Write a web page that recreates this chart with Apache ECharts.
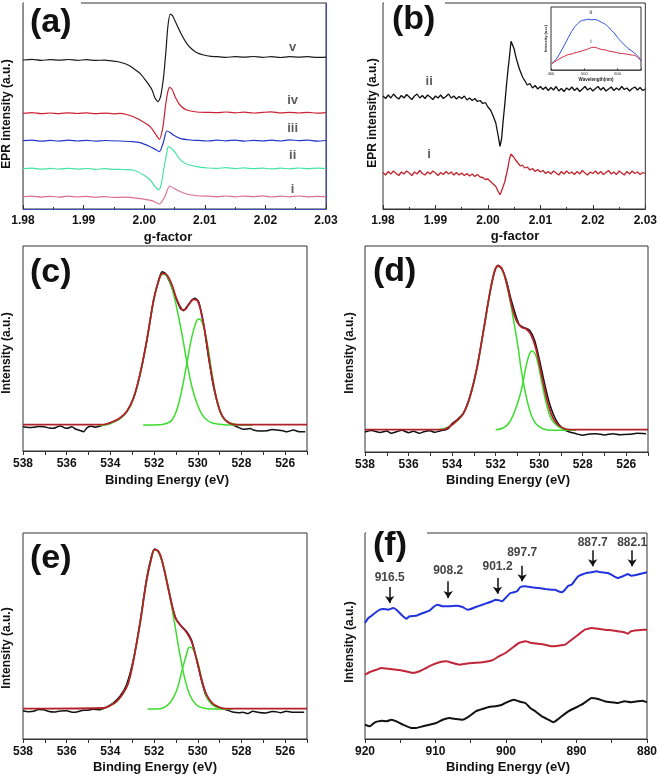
<!DOCTYPE html>
<html><head><meta charset="utf-8">
<script src="https://cdn.jsdelivr.net/npm/echarts@6/dist/echarts.min.js"></script>
<style>html,body{margin:0;padding:0;background:#fff}#c{width:660px;height:776px}</style>
</head><body><div id="c"></div>
<script>
const FONT = '"Liberation Sans", Arial, sans-serif';

// ---------- (a) EPR spectra: [g-factor, intensity] ----------
const aV = [[1.9800,149],[1.9815,149.6],[1.9830,148.6],[1.9845,149.4],[1.9860,148.8],[1.9875,149.5],[1.9890,148.7],[1.9905,149.3],[1.9920,148.6],[1.9935,148.9],[1.9944,148.3],[1.9955,147.5],[1.9966,145.7],[1.9975,143.5],[1.9982,140.7],[1.9993,135.7],[2.0004,127.3],[2.0013,119],[2.0018,110.7],[2.0023,107.3],[2.0027,112.3],[2.0032,132.3],[2.0036,159],[2.0039,182.3],[2.0043,195],[2.0047,193],[2.0054,184],[2.0062,174],[2.0070,165.7],[2.0079,159.7],[2.0087,156.3],[2.0098,154],[2.0110,152.6],[2.0120,152.3],[2.0135,151.6],[2.0150,152.4],[2.0165,151.8],[2.0180,152.5],[2.0195,151.7],[2.0210,152.3],[2.0225,151.5],[2.0240,152.4],[2.0255,151.8],[2.0270,152.3],[2.0285,151.6],[2.0300,151.9]];
const aIV = [[1.9800,95.7],[1.9815,96.3],[1.9830,95.3],[1.9845,96.0],[1.9860,95.4],[1.9875,96.2],[1.9890,95.5],[1.9905,96.1],[1.9920,95.3],[1.9935,95.9],[1.9950,95.2],[1.9960,95.6],[1.9971,94.5],[1.9982,92.3],[1.9993,89],[2.0010,82.3],[2.0018,75.7],[2.0025,69.7],[2.0031,82.3],[2.0035,102.3],[2.0039,117.3],[2.0042,121.7],[2.0046,119.7],[2.0051,112.3],[2.0059,104],[2.0070,99],[2.0087,97],[2.0105,96.6],[2.0120,96.3],[2.0135,97.0],[2.0150,96.2],[2.0165,96.8],[2.0180,96.0],[2.0195,96.6],[2.0210,97.2],[2.0225,96.1],[2.0240,96.7],[2.0255,96.0],[2.0270,96.6],[2.0285,95.9],[2.0300,96.4]];
const aIII = [[1.9800,68.3],[1.9815,68.9],[1.9830,67.8],[1.9845,68.6],[1.9860,67.9],[1.9875,68.8],[1.9890,68.0],[1.9905,68.7],[1.9920,67.8],[1.9935,68.5],[1.9960,68.0],[1.9980,67.3],[1.9993,66.3],[2.0010,62.3],[2.0018,59.7],[2.0025,57.3],[2.0032,67.3],[2.0037,78],[2.0043,76.5],[2.0048,74],[2.0059,70.7],[2.0076,69],[2.0090,68.6],[2.0105,68.0],[2.0120,68.8],[2.0135,68.2],[2.0150,68.9],[2.0165,67.9],[2.0180,68.6],[2.0195,68.1],[2.0210,68.8],[2.0225,68.0],[2.0240,69.2],[2.0255,68.3],[2.0270,68.9],[2.0285,67.9],[2.0300,68.5]];
const aII = [[1.9800,40.3],[1.9815,40.9],[1.9830,39.8],[1.9845,40.6],[1.9860,39.9],[1.9875,40.7],[1.9890,39.9],[1.9905,40.5],[1.9920,39.7],[1.9935,40.3],[1.9950,39.6],[1.9965,39.5],[1.9982,39],[1.9999,34],[2.0010,29],[2.0018,22.3],[2.0024,19],[2.0028,24],[2.0032,39],[2.0036,52],[2.0040,62.3],[2.0048,59],[2.0059,49.7],[2.0070,45],[2.0087,42.3],[2.0105,41.0],[2.0120,40.7],[2.0135,41.3],[2.0150,40.4],[2.0165,41.1],[2.0180,40.3],[2.0195,40.9],[2.0210,40.1],[2.0225,40.8],[2.0240,40.2],[2.0255,41.0],[2.0270,40.3],[2.0285,40.8],[2.0300,40.5]];
const aI = [[1.9800,12.3],[1.9815,12.9],[1.9830,11.9],[1.9845,12.7],[1.9860,11.8],[1.9875,12.8],[1.9890,12.0],[1.9905,12.6],[1.9920,11.7],[1.9935,12.4],[1.9950,11.6],[1.9965,11.8],[1.9990,10.7],[2.0013,8.3],[2.0025,5],[2.0034,12.3],[2.0042,23],[2.0054,19],[2.0070,15],[2.0092,13],[2.0105,12.8],[2.0120,12.2],[2.0135,13.0],[2.0150,12.1],[2.0165,12.9],[2.0180,12.3],[2.0195,13.1],[2.0210,12.0],[2.0225,12.8],[2.0240,12.2],[2.0255,13.0],[2.0270,12.1],[2.0285,12.7],[2.0300,12.4]];
const aLabels = [[2.0245,161.3,'v'],[2.0245,109,'iv'],[2.0245,80.7,'iii'],[2.0245,54,'ii'],[2.0245,20,'i']];

// ---------- (b) EPR spectra ----------
const bII = [[1.9800,113],[1.9805,110.5],[1.9810,114],[1.9815,111],[1.9820,115],[1.9825,112],[1.9830,110],[1.9835,113.5],[1.9840,111],[1.9845,114.5],[1.9850,112],[1.9855,109.5],[1.9860,113],[1.9865,115],[1.9870,111],[1.9875,113.5],[1.9880,110.5],[1.9885,114],[1.9890,112],[1.9895,109.5],[1.9900,113],[1.9905,111],[1.9910,114],[1.9915,110.5],[1.9920,112.5],[1.9925,115],[1.9930,111],[1.9935,113],[1.9940,110],[1.9945,112.5],[1.9950,110.5],[1.9955,113],[1.9960,109],[1.9965,111],[1.9970,108.5],[1.9975,110.5],[1.9980,107.5],[1.9985,108.5],[1.9990,105.5],[1.9995,106.5],[2.0000,102],[2.0005,99],[2.0010,93],[2.0015,86],[2.0020,72],[2.0023,62.7],[2.0026,70],[2.0029,88],[2.0032,104],[2.0035,122],[2.0038,138],[2.0041,152],[2.0044,167.7],[2.0047,166],[2.0050,160],[2.0053,152.7],[2.0056,147],[2.0060,140],[2.0063,136],[2.0066,132],[2.0070,128.5],[2.0075,124],[2.0080,125.5],[2.0085,121],[2.0090,123.5],[2.0095,120],[2.0100,122.5],[2.0105,119.5],[2.0110,122],[2.0115,118.5],[2.0120,121.5],[2.0125,119],[2.0130,122.5],[2.0135,118],[2.0140,120.5],[2.0145,117.5],[2.0150,121],[2.0155,119],[2.0160,122],[2.0165,118.5],[2.0170,121],[2.0175,117.5],[2.0180,120],[2.0185,122.5],[2.0190,119],[2.0195,121],[2.0200,118],[2.0205,120.5],[2.0210,122.5],[2.0215,119],[2.0220,121.5],[2.0225,118],[2.0230,120],[2.0235,122],[2.0240,118.5],[2.0245,121],[2.0250,119],[2.0255,122.5],[2.0260,119.5],[2.0265,121],[2.0270,118],[2.0275,120.5],[2.0280,122],[2.0285,119],[2.0290,121.5],[2.0295,118.5],[2.0300,120]];
const bI = [[1.9800,36.5],[1.9805,34],[1.9810,37.5],[1.9815,35],[1.9820,38],[1.9825,35.5],[1.9830,33.5],[1.9835,37],[1.9840,35],[1.9845,38],[1.9850,36],[1.9855,33.5],[1.9860,37],[1.9865,35],[1.9870,38.5],[1.9875,35.5],[1.9880,34],[1.9885,37],[1.9890,35],[1.9895,38],[1.9900,36],[1.9905,33.5],[1.9910,36.5],[1.9915,34.5],[1.9920,37.5],[1.9925,35],[1.9930,37],[1.9935,34],[1.9940,36.5],[1.9945,34],[1.9950,36],[1.9955,33.5],[1.9960,35.5],[1.9965,33],[1.9970,35],[1.9975,32.5],[1.9980,34.5],[1.9985,32],[1.9990,31.5],[1.9995,29.5],[2.0000,30],[2.0005,27.5],[2.0010,25],[2.0015,22.5],[2.0020,17],[2.0023,14.3],[2.0026,18],[2.0029,20],[2.0032,27],[2.0035,34],[2.0038,41],[2.0041,50],[2.0044,55],[2.0046,56.7],[2.0049,52],[2.0052,49.5],[2.0055,48],[2.0058,45.5],[2.0062,43],[2.0066,44],[2.0070,41],[2.0075,42],[2.0080,39],[2.0085,40.5],[2.0090,37.5],[2.0095,39.5],[2.0100,37],[2.0105,38.5],[2.0110,35.5],[2.0115,37.5],[2.0120,35],[2.0125,38],[2.0130,36],[2.0135,34],[2.0140,37.5],[2.0145,35],[2.0150,38],[2.0155,35.5],[2.0160,37],[2.0165,34.5],[2.0170,37.5],[2.0175,35],[2.0180,38.5],[2.0185,36],[2.0190,34],[2.0195,37],[2.0200,35.5],[2.0205,38],[2.0210,35],[2.0215,37.5],[2.0220,34.5],[2.0225,36.5],[2.0230,38.5],[2.0235,35],[2.0240,37],[2.0245,34.5],[2.0250,38],[2.0255,36],[2.0260,34],[2.0265,37.5],[2.0270,35],[2.0275,38],[2.0280,35.5],[2.0285,37],[2.0290,34.5],[2.0295,36.5],[2.0300,35.5]];
const bLabels = [[1.9888,127.7,'ii'],[1.9888,54.3,'i']];

// ---------- (b) inset: [wavelength nm, intensity] ----------
const insetII = [[402,6.2],[412,9.5],[422,14],[432,20],[442,26],[452,32.5],[462,38.5],[472,43.5],[482,47],[492,49.5],[502,50],[512,50.8],[522,50.2],[532,50.5],[542,49.5],[552,47.5],[562,46],[572,43],[582,39.5],[592,36],[602,31.5],[612,27.8],[622,24.5],[632,21.5],[642,19],[652,16.5],[662,13.5],[670,9.5]];
const insetI = [[402,6.2],[412,8.5],[422,10.5],[432,12.5],[442,14],[452,15.5],[462,16],[472,17.2],[482,18],[492,19],[502,20],[512,21.2],[522,22.5],[532,22.8],[542,21.5],[552,20.5],[562,20.2],[572,19],[582,18.5],[592,17.8],[602,17],[612,16.5],[622,16.2],[632,15.5],[642,15],[652,14.5],[662,12],[670,9.5]];
const insetLabels = [[520,57.7,'ii'],[520,28.3,'i']];

// ---------- (c) O 1s XPS: [binding energy eV, intensity] ----------
const cData = [[538.00,24.3],[537.75,23.5],[537.51,23.7],[537.30,24.5],[537.05,24.3],[536.80,23.0],[536.60,22.7],[536.45,24.0],[536.29,25.0],[536.10,23.3],[535.99,22.7],[535.76,24.3],[535.60,22.0],[535.45,21.0],[535.22,19.3],[535.10,22.5],[535.00,24.3],[534.85,24.7],[534.69,23.7],[534.46,25.0],[534.16,27.0],[533.85,29.3],[533.55,32.7],[533.24,39.3],[532.94,52.7],[532.63,77.7],[532.33,111],[532.02,151],[531.79,171],[531.64,179.3],[531.49,177.7],[531.26,167.7],[531.03,154.3],[530.80,142.7],[530.65,140.3],[530.50,144.3],[530.27,151],[530.12,152.7],[529.96,149.3],[529.74,127.7],[529.51,94.3],[529.28,64.3],[529.05,44.3],[528.82,32.7],[528.52,27.7],[528.21,24.3],[527.91,21.7],[527.60,22.5],[527.45,21],[527.20,20.0],[526.84,20.3],[526.60,21.5],[526.38,21],[526.10,20.2],[525.92,19.3],[525.62,21],[525.40,19.5],[525.31,19.3],[525.08,19.3]];
const cFit = [[538,26.3],[534.46,26.3],[534.16,27],[533.85,29.7],[533.55,33.3],[533.24,40],[532.94,53.3],[532.63,78.3],[532.33,111],[532.02,151],[531.79,170.3],[531.60,177.7],[531.41,176],[531.18,166],[530.96,151.7],[530.73,141.7],[530.62,141],[530.42,146],[530.19,151.7],[530.04,151],[529.89,142.7],[529.66,117.7],[529.43,84.3],[529.20,57.7],[528.97,39.3],[528.74,31],[528.52,27.7],[528.21,26.3],[525,26.3]];
const cPeak1 = [[534.6,25.7],[534.16,26.3],[533.85,29],[533.55,32.7],[533.24,39.3],[532.94,52.5],[532.63,77.5],[532.33,110.5],[532.02,150.5],[531.79,170],[531.60,177],[531.41,175],[531.18,162.7],[530.96,142.7],[530.73,117.7],[530.50,89.3],[530.27,64.3],[530.04,47.7],[529.81,36.7],[529.58,31],[529.28,27.7],[528.82,26.3],[528.36,26],[527.5,26]];
const cPeak2 = [[532.5,26],[531.72,26.3],[531.41,27.7],[531.18,31],[530.96,41],[530.73,61],[530.50,87.7],[530.27,114.3],[530.07,129.3],[529.96,132],[529.81,129.3],[529.58,109.3],[529.35,77.7],[529.13,51],[528.90,36],[528.67,29.3],[528.36,27],[528.06,26],[527.5,26]];

// ---------- (d) ----------
const dData = [[538,20],[537.7,21.5],[537.31,19.5],[537.0,21],[536.8,18.7],[536.55,20.3],[536.3,21.7],[536.0,19.3],[535.78,20.7],[535.5,18.7],[535.3,20.3],[535.02,21.3],[534.8,19.7],[534.56,21.0],[534.41,21.7],[534.26,22.3],[534.10,25],[534.03,27.7],[533.80,31.7],[533.49,38.3],[533.19,55],[532.88,81.7],[532.58,118.3],[532.27,158.3],[532.04,181.7],[531.89,186.7],[531.74,184.3],[531.51,171.7],[531.28,151.7],[531.05,135],[530.90,126.7],[530.67,124.3],[530.44,121.7],[530.21,111.7],[529.98,91.7],[529.75,68.3],[529.52,48.3],[529.22,31.7],[528.91,23.3],[528.61,20],[528.30,18.3],[528.0,16.7],[527.7,18],[527.38,18.3],[527.0,17],[526.62,18.3],[526.3,17.3],[525.86,17.7],[525.5,18.7],[525.09,18.3]];
const dFit = [[538,22.3],[534.41,22.3],[534.10,25.7],[533.80,31],[533.49,38.3],[533.19,54.3],[532.88,81.7],[532.58,118.3],[532.27,158.3],[532.04,181],[531.89,186],[531.69,182.3],[531.51,170],[531.28,148.3],[531.05,131.7],[530.82,125],[530.59,123],[530.36,116.7],[530.13,101.7],[529.90,78.3],[529.67,55],[529.45,38.3],[529.22,29],[528.91,24],[528.61,22.3],[525,22.3]];
const dPeak1 = [[534.6,22.3],[534.10,25.5],[533.80,30.7],[533.49,38],[533.19,54],[532.88,81.3],[532.58,118],[532.27,158],[532.04,180.7],[531.89,185.7],[531.66,180],[531.43,161.7],[531.20,135],[530.97,105],[530.82,81.7],[530.59,55],[530.36,36.7],[530.13,27.7],[529.83,23.3],[529.37,21.7],[528.5,21.7]];
const dPeak2 = [[532.0,22.3],[531.66,24],[531.35,30],[531.05,45],[530.82,61.7],[530.59,86.7],[530.44,98.3],[530.33,101],[530.13,95],[529.90,71.7],[529.67,48.3],[529.45,33.3],[529.14,25.7],[528.76,22.7],[528.30,21.7]];

// ---------- (e) ----------
const eData = [[538,28.3],[537.75,27.3],[537.51,27.7],[537.3,29.5],[537.06,29.3],[536.8,27.5],[536.60,27],[536.3,28],[535.99,28.3],[535.75,26.8],[535.54,27],[535.3,28.5],[535.08,28.7],[534.8,29.7],[534.47,29.3],[534.17,32],[533.87,36],[533.56,42.7],[533.26,54.3],[532.95,79.3],[532.65,116],[532.35,159.3],[532.12,182.7],[531.97,190],[531.81,187.7],[531.59,174.3],[531.36,152.7],[531.13,129.3],[530.98,119.3],[530.75,112.7],[530.52,107.7],[530.29,99.3],[530.07,81],[529.84,59.3],[529.61,42.7],[529.31,34.3],[529.00,31],[528.70,29.3],[528.40,27],[528.1,26.3],[527.94,26.7],[527.7,25.5],[527.48,27.7],[527.2,26.5],[526.88,26],[526.6,27.5],[526.42,27.3],[526.2,26.3],[525.96,27.7],[525.7,26.8],[525.36,26.7],[525.13,26.7]];
const eFit = [[538,30.3],[534.32,31],[534.02,33.3],[533.71,37.7],[533.41,46],[533.18,56],[532.95,77.7],[532.65,114.3],[532.35,157.7],[532.12,181],[531.97,189.3],[531.77,186.7],[531.59,174.3],[531.36,151],[531.13,129.3],[530.98,119.3],[530.75,112.7],[530.52,106.7],[530.29,97.7],[530.07,81],[529.84,61],[529.61,45],[529.31,35.3],[529.00,31.7],[528.70,30.3],[525,30.3]];
const ePeak1 = [[534.5,30.3],[534.32,31],[534.02,33.3],[533.71,37.5],[533.41,45.7],[533.18,55.7],[532.95,77.5],[532.65,114],[532.35,157.5],[532.12,180.7],[531.97,189],[531.74,184.3],[531.51,167.7],[531.28,142.7],[531.05,114.3],[530.83,86],[530.60,61],[530.37,44.3],[530.07,34.3],[529.76,31],[529.31,30],[528.5,30]];
const ePeak2 = [[532.3,30],[531.89,30],[531.59,31],[531.28,36],[530.98,47.7],[530.75,66],[530.52,84.3],[530.37,91.7],[530.22,90],[529.99,76],[529.76,54.3],[529.53,39.3],[529.23,32.7],[528.85,30.3],[528.4,30]];

// ---------- (f) Ce 3d XPS ----------
const fTop = [[920,116],[919.53,121],[919.06,123.3],[918.59,126],[917.89,129.3],[917.42,130],[916.72,129.3],[916.01,131],[915.55,129.3],[915.08,126],[914.61,122.7],[914.14,120.3],[913.67,122.7],[912.73,123.3],[911.79,126],[910.86,128.3],[910.15,132.7],[909.68,134.3],[908.98,132.7],[908.04,132.7],[907.10,133.3],[906.17,132],[905.46,129.3],[904.99,130],[904.29,132],[903.35,134.3],[902.65,136],[901.95,137.7],[901.48,139.3],[901.01,138.7],[900.54,137.7],[900.07,141],[899.37,146],[898.90,146.7],[898.43,147.7],[897.96,152],[897.26,152.7],[896.32,151.7],[895.38,151],[894.44,150],[893.51,149.3],[893.04,149.3],[892.57,147.7],[892.10,146.7],[891.63,149.3],[891.16,153.3],[890.69,154.3],[890.22,158.7],[889.75,162.7],[889.28,164.3],[888.58,166],[887.88,166.7],[887.17,167.7],[886.47,166.7],[885.53,166],[884.83,163.3],[884.13,161],[883.42,162.7],[882.72,165],[882.25,163.3],[881.55,164],[880.84,165.3],[880.00,166.7]];
const fMid = [[920,64.3],[919.30,67],[918.36,69.3],[917.66,71],[916.72,70.3],[915.55,69.3],[914.61,68.3],[913.20,66],[912.26,67.7],[911.32,71],[910.39,74.3],[909.45,76.7],[908.51,77.7],[907.57,76],[906.64,74.3],[905.70,75.3],[904.76,76],[903.35,76.7],[901.95,78.7],[901.01,82.7],[900.07,86],[899.13,91],[898.19,96],[897.26,97.7],[896.32,96],[895.38,95.3],[894.44,94.3],[893.51,92.7],[892.57,93.3],[891.63,94.3],[890.69,99.3],[889.75,104.3],[888.82,109.3],[887.88,111],[886.94,110.3],[886.00,109.3],[885.06,108.7],[884.13,107.7],[883.19,106.7],[882.72,105.3],[882.25,107.7],[881.31,108.7],[880.61,109.3],[880,109.3]];
const fBot = [[920,14.3],[919.30,12.7],[918.59,16.7],[917.66,18.3],[916.95,17.7],[916.25,19.3],[915.55,17.7],[914.61,14.3],[913.43,11],[912.73,11],[911.79,12.7],[910.86,14.3],[909.92,16],[908.98,19.3],[908.04,21],[907.10,20],[906.17,19.3],[905.23,22.7],[904.29,27.7],[903.35,30],[902.42,32],[901.48,32.7],[900.54,34.3],[899.60,37.7],[898.90,39.3],[898.19,37.7],[897.26,36],[896.55,31],[895.85,27.7],[894.91,22.7],[893.97,19.3],[893.27,16.7],[892.57,20],[892.10,22.7],[891.16,27.7],[890.22,31],[889.28,34.3],[888.58,37.7],[887.88,41],[886.94,40],[886.00,37.7],[885.06,36.7],[884.13,36],[883.19,37.7],[882.25,36.7],[881.31,37.7],[880.61,38.3],[880,36.7]];
const fPeaks = [916.5, 908.2, 901.2, 897.7, 887.7, 882.1];
const fArrowTop = [152, 157.7, 161, 173.3, 188.7, 188.7];
const fArrowBot = [136, 141, 145.3, 157.7, 172.7, 172.7];
const fLabelY = [161.5, 168, 172.5, 186.5, 196.5, 196.5];

// ---------- build chart ----------
const chart = echarts.init(document.getElementById('c'), null, {renderer:'canvas'});
const grids = [
  {left:23, top:3, width:303, height:206},
  {left:383, top:3, width:264, height:206},
  {left:551, top:7, width:90, height:63, backgroundColor:'#fff'},
  {left:23, top:246, width:284, height:205},
  {left:365, top:246, width:283, height:206},
  {left:23, top:533, width:284, height:206},
  {left:365, top:533, width:284, height:206}
].map(g => Object.assign({show:true, borderColor:'#333', borderWidth:1, backgroundColor:'transparent'}, g));

const lblStyle = {fontSize:12, fontWeight:'bold', color:'#111', fontFamily:FONT};
function eprX(gi, lineColor){
  return {gridIndex:gi, type:'value', min:1.98, max:2.03, interval:0.01,
    axisLine:{show:true, lineStyle:{color:lineColor, width:1}},
    axisTick:{show:true, inside:true, length:4, lineStyle:{color:'#333'}},
    minorTick:{show:true, splitNumber:2, length:2, lineStyle:{color:'#333'}},
    splitLine:{show:false},
    axisLabel:Object.assign({margin:6, formatter:v=>v.toFixed(2)}, lblStyle)};
}
function beX(gi){
  return {gridIndex:gi, type:'value', min:525, max:538, interval:1, inverse:true,
    axisLine:{show:true, lineStyle:{color:'#333', width:1}},
    axisTick:{show:true, inside:false, length:4, lineStyle:{color:'#333'}},
    splitLine:{show:false},
    axisLabel:Object.assign({margin:7, interval:0, formatter:v=> (Math.round(v)%2===0 ? String(Math.round(v)) : '')}, lblStyle)};
}
function yAx(gi, max, extra){
  return Object.assign({gridIndex:gi, type:'value', min:0, max:max,
    axisLine:{show:false}, axisTick:{show:false}, axisLabel:{show:false}, splitLine:{show:false}}, extra||{});
}
const xAxes = [
  eprX(0, '#3b4cc0'),
  eprX(1, '#333'),
  {gridIndex:2, type:'value', min:400, max:670, interval:100,
    axisLine:{show:true, lineStyle:{color:'#333', width:0.8}},
    axisTick:{show:true, inside:true, length:1.5},
    splitLine:{show:false},
    axisLabel:{fontSize:4, margin:2, color:'#222', formatter:v=>(v%100===0? String(v):'')},
    name:'Wavelength(nm)', nameLocation:'middle', nameGap:7, nameTextStyle:{fontSize:4.5, color:'#222', fontWeight:'bold'}},
  beX(3), beX(4), beX(5),
  {gridIndex:6, type:'value', min:880, max:920, interval:5, inverse:true,
    axisLine:{show:true, lineStyle:{color:'#333', width:1}},
    axisTick:{show:true, inside:false, length:4, lineStyle:{color:'#333'}},
    splitLine:{show:false},
    axisLabel:Object.assign({margin:7, interval:0, formatter:v=>(v%10===0? String(v):'')}, lblStyle)}
];
const yAxes = [
  yAx(0, 206, {axisLine:{show:true, lineStyle:{color:'#8a8a8a'}}}),
  yAx(1, 206),
  yAx(2, 63, {name:'Intensity (a.u.)', nameLocation:'middle', nameGap:3, nameTextStyle:{fontSize:4, color:'#222', fontWeight:'bold'}}),
  yAx(3, 205),
  yAx(4, 206),
  yAx(5, 206),
  yAx(6, 206),
  yAx(0, 206, {position:'right', axisLine:{show:true, lineStyle:{color:'#3b4cc0'}}})
];

const series = [];
function line(idx, data, color, width, smooth, z){
  series.push({type:'line', xAxisIndex:idx, yAxisIndex:idx, data, symbol:'none', showSymbol:false,
    smooth: smooth || false, lineStyle:{color, width}, z: z || 2, silent:true, animation:false});
  return series[series.length-1];
}
function labels(idx, data, fontSize, color){
  series.push({type:'scatter', xAxisIndex:idx, yAxisIndex:idx, data, symbolSize:1,
    itemStyle:{color:'rgba(0,0,0,0)'}, silent:true, z:10, animation:false,
    label:{show:true, position:'inside', formatter:p=>p.data[2], fontSize, fontWeight:'bold', color, fontFamily:FONT}});
}

// (a)
line(0, aV, '#1a1a1a', 1.2, 0.2);
line(0, aIV, '#cc2233', 1.2, 0.2);
line(0, aIII, '#2536c8', 1.2, 0.2);
line(0, aII, '#45e3a2', 1.2, 0.2);
line(0, aI, '#da6f93', 1.2, 0.2);
labels(0, aLabels, 13, '#333');
// (b)
line(1, bII, '#111', 1.3, false);
line(1, bI, '#c2262e', 1.3, false);
labels(1, bLabels, 13, '#333');
// inset
line(2, insetII, '#2448e0', 1, 0.2, 5);
line(2, insetI, '#d0203a', 1, 0.2, 5);
labels(2, insetLabels, 5, '#333');
// (c)-(e)
[[3, cData, cPeak1, cPeak2, cFit],[4, dData, dPeak1, dPeak2, dFit],[5, eData, ePeak1, ePeak2, eFit]].forEach(p => {
  line(p[0], p[1], '#111', 1.5, 0.2, 2);
  line(p[0], p[2], '#3ddc2e', 1.5, 0.4, 3);
  line(p[0], p[3], '#3ddc2e', 1.5, 0.4, 3);
  line(p[0], p[4], '#b3202a', 1.8, 0.4, 4);
});
// (f)
const fTopSeries = line(6, fTop, '#2233dd', 2, 0.1);
line(6, fMid, '#c0263a', 2, 0.1);
line(6, fBot, '#111', 2, 0.1);
fTopSeries.markLine = {silent:true, symbol:['none','arrow'], symbolSize:7, animation:false,
  lineStyle:{color:'#111', width:1.5, type:'solid'}, label:{show:false},
  data: fPeaks.map((e,i)=>[{coord:[e, fArrowTop[i]]},{coord:[e, fArrowBot[i]]}])};
labels(6, fPeaks.map((e,i)=>[e, fLabelY[i], e.toFixed(1)]), 12, '#111');

// text: panel letters, axis titles
const gfx = [];
function txt(x, y, s, font, rot, align){
  gfx.push({type:'text', x, y, rotation: rot||0, z:200,
    style:{text:s, font, fill:'#111', align: align||'center', verticalAlign:'middle'}});
}
// white masks where the frame is interrupted by panel letters
[[24,0,57,7],[384,0,61,7],[366,530,61,6]].forEach(r => gfx.push({type:'rect', shape:{x:r[0], y:r[1], width:r[2], height:r[3]}, style:{fill:'#fff'}, z:150}));
const LETTER = 'bold 34px ' + FONT;
txt(30, 23, '(a)', LETTER, 0, 'left');
txt(392, 20, '(b)', LETTER, 0, 'left');
txt(30, 273, '(c)', LETTER, 0, 'left');
txt(373, 272, '(d)', LETTER, 0, 'left');
txt(30, 559, '(e)', LETTER, 0, 'left');
txt(373, 546, '(f)', LETTER, 0, 'left');
const AX = 'bold 13px ' + FONT;
const AY = 'bold 12px ' + FONT;
txt(168, 237, 'g-factor', AX);
txt(515, 236, 'g-factor', AX);
txt(167, 480, 'Binding Energy (eV)', AX);
txt(508, 480, 'Binding Energy (eV)', AX);
txt(155, 767, 'Binding Energy (eV)', AX);
txt(508, 767, 'Binding Energy (eV)', AX);
txt(7, 114, 'EPR intensity (a.u.)', AY, Math.PI/2);
txt(373, 113, 'EPR intensity (a.u.)', AY, Math.PI/2);
txt(7, 353, 'Intensity (a.u.)', AY, Math.PI/2);
txt(350, 353, 'Intensity (a.u.)', AY, Math.PI/2);
txt(7, 648, 'Intensity (a.u.)', AY, Math.PI/2);
txt(350, 642, 'Intensity (a.u.)', AY, Math.PI/2);

chart.setOption({
  animation:false,
  backgroundColor:'#fff',
  textStyle:{fontFamily:FONT},
  grid: grids, xAxis: xAxes, yAxis: yAxes, series, graphic: gfx
});
</script></body></html>
